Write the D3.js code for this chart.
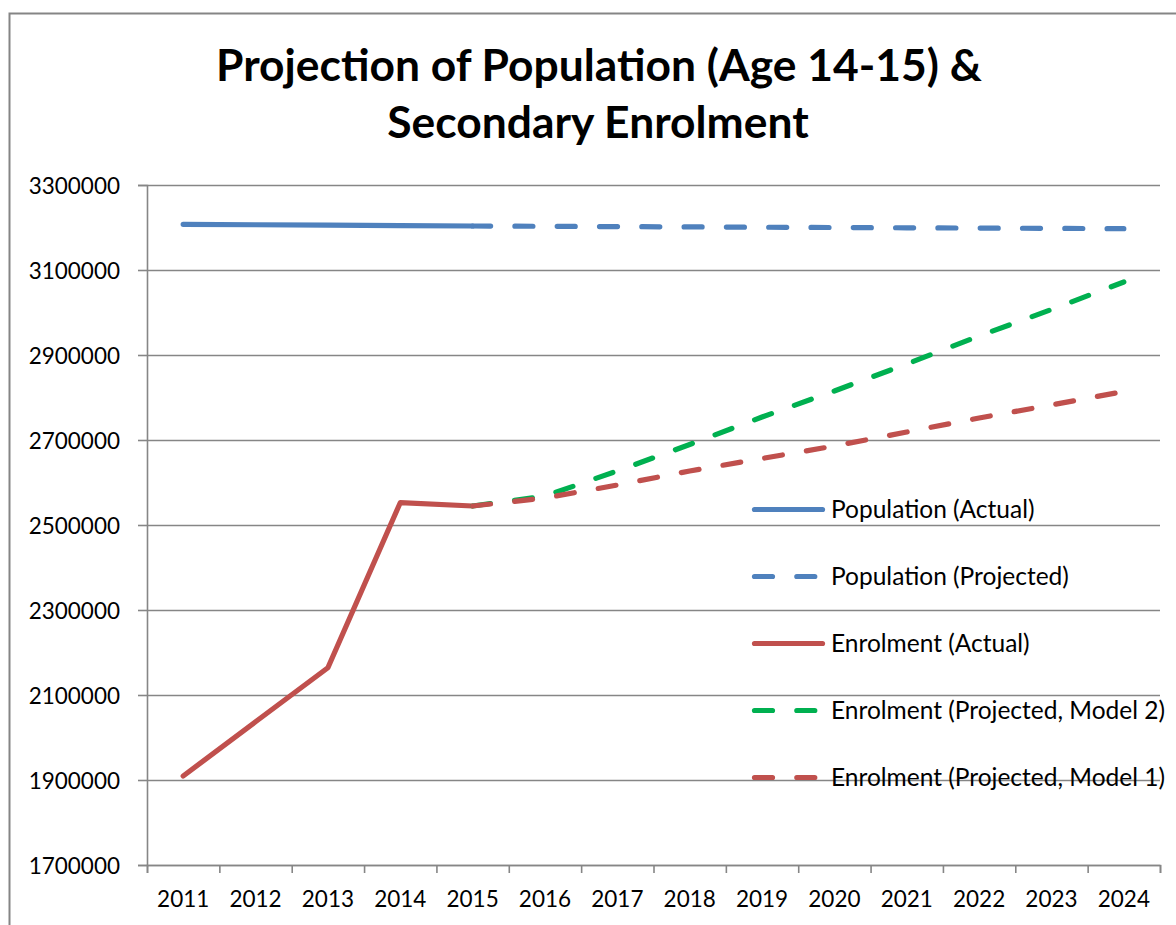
<!DOCTYPE html>
<html>
<head>
<meta charset="utf-8">
<script src="https://cdn.jsdelivr.net/npm/d3@7"></script>
<style>
  html, body { margin: 0; padding: 0; background: #fff; }
  svg { display: block; }
  text { font-family: Lato, "Open Sans", sans-serif; fill: #000; }
</style>
</head>
<body>
<svg id="chart" width="1176" height="925"></svg>
<script>
// ---------- data ----------
const years = ["2011","2012","2013","2014","2015","2016","2017","2018","2019","2020","2021","2022","2023","2024"];
const actualYears = ["2011","2012","2013","2014","2015"];
const projYears = ["2015","2016","2017","2018","2019","2020","2021","2022","2023","2024"];

const populationActual = [3207500, 3206500, 3205500, 3204500, 3203500];
const populationProjected = [3203500, 3202800, 3202100, 3201400, 3200700, 3200000, 3199300, 3198600, 3197900, 3197200];
const enrolmentActual = [1909400, 2037000, 2164200, 2552500, 2544700];
const enrolmentModel2 = [2544700, 2568200, 2627100, 2689400, 2754100, 2815300, 2878800, 2944700, 3007000, 3071800];
const enrolmentModel1 = [2544700, 2563500, 2594100, 2627100, 2656500, 2685900, 2718800, 2751800, 2782400, 2814100];

const yTicks = [1700000, 1900000, 2100000, 2300000, 2500000, 2700000, 2900000, 3100000, 3300000];

const titleLines = ["Projection of Population (Age 14-15) &", "Secondary Enrolment"];
const legendLabels = ["Population (Actual)", "Population (Projected)", "Enrolment (Actual)", "Enrolment (Projected, Model 2)", "Enrolment (Projected, Model 1)"];

// ---------- layout ----------
const svg = d3.select("#chart");
const plot = { left: 147, right: 1160, top: 185, bottom: 865 };
const blue = "#4F81BD", red = "#C0504D", green = "#00B050", grid = "#868686";
const dash = "18 24.3";

// outer chart border
svg.append("rect").attr("x", 9.5).attr("y", 13.5).attr("width", 1300).attr("height", 1000)
  .attr("fill", "none").attr("stroke", "#858585").attr("stroke-width", 2);

// title
const title = svg.append("g");
const t1 = title.append("text").attr("x", 599).attr("y", 81).attr("text-anchor", "middle")
  .attr("font-weight", "bold").attr("font-size", 40).text(titleLines[0]);
const w1 = t1.node().getComputedTextLength();
const titleSize = 40 * 766 / w1;
t1.attr("font-size", titleSize);
title.append("text").attr("x", 598).attr("y", 138).attr("text-anchor", "middle")
  .attr("font-weight", "bold").attr("font-size", titleSize).text(titleLines[1]);

// scales
const x = d3.scaleBand().domain(years).range([plot.left, plot.right]).padding(0);
const cx = d => x(d) + x.bandwidth() / 2;
const y = d3.scaleLinear().domain([1700000, 3300000]).range([plot.bottom, plot.top]);

// gridlines
const gGrid = svg.append("g").attr("transform", `translate(${plot.left},0)`)
  .call(d3.axisLeft(y).tickValues(yTicks).tickSize(-(plot.right - plot.left)).tickFormat(""));
gGrid.select(".domain").remove();
gGrid.selectAll("line").attr("stroke", grid).attr("stroke-width", 1.6);

// y axis
const gY = svg.append("g").attr("transform", `translate(${plot.left},0)`)
  .call(d3.axisLeft(y).tickValues(yTicks).tickSize(9).tickPadding(18).tickFormat(d3.format("d")));
gY.select(".domain").attr("stroke", grid).attr("stroke-width", 1.6);
gY.selectAll("line").attr("stroke", grid).attr("stroke-width", 1.6);
gY.selectAll("text").attr("font-size", 22.5).attr("font-family", "Lato, sans-serif").attr("dy", "0.36em");

// x axis: boundary ticks
const xb = d3.scaleLinear().domain([0, years.length]).range([plot.left, plot.right]);
const gXb = svg.append("g").attr("transform", `translate(0,${plot.bottom})`)
  .call(d3.axisBottom(xb).tickValues(d3.range(years.length + 1)).tickSize(8).tickFormat(""));
gXb.select(".domain").attr("stroke", grid).attr("stroke-width", 1.6);
gXb.selectAll("line").attr("stroke", grid).attr("stroke-width", 1.6);
// x labels
const gX = svg.append("g").attr("transform", `translate(0,${plot.bottom})`)
  .call(d3.axisBottom(x).tickSize(0).tickPadding(26));
gX.select(".domain").remove();
gX.selectAll("text").attr("font-size", 22.5).attr("font-family", "Lato, sans-serif");

// lines
const line = d3.line().x(d => cx(d[0])).y(d => y(d[1]));
const zip = (ks, vs) => ks.map((k, i) => [k, vs[i]]);
function drawSeries(keys, vals, color, dashed) {
  svg.append("path").datum(zip(keys, vals)).attr("d", line)
    .attr("fill", "none").attr("stroke", color).attr("stroke-width", 5.2)
    .attr("stroke-linecap", "round").attr("stroke-linejoin", "round")
    .attr("stroke-dasharray", dashed ? dash : null);
}
drawSeries(actualYears, populationActual, blue, false);
drawSeries(projYears, populationProjected, blue, true);
drawSeries(actualYears, enrolmentActual, red, false);
drawSeries(projYears, enrolmentModel2, green, true);
drawSeries(projYears, enrolmentModel1, red, true);

// legend
const legendItems = [
  { label: legendLabels[0], color: blue, dashed: false },
  { label: legendLabels[1], color: blue, dashed: true },
  { label: legendLabels[2], color: red, dashed: false },
  { label: legendLabels[3], color: green, dashed: true },
  { label: legendLabels[4], color: red, dashed: true }
];
const legendY = d3.scalePoint().domain(d3.range(legendItems.length)).range([509.5, 777.5]);
const lg = svg.append("g");
legendItems.forEach((it, i) => {
  const yy = legendY(i);
  lg.append("line").attr("x1", 754.5).attr("x2", 822.5).attr("y1", yy).attr("y2", yy)
    .attr("stroke", it.color).attr("stroke-width", 5.2).attr("stroke-linecap", "round")
    .attr("stroke-dasharray", it.dashed ? dash : null);
  lg.append("text").attr("x", 831).attr("y", yy).attr("dy", "0.36em")
    .attr("font-size", 24.5).text(it.label);
});
</script>
</body>
</html>
